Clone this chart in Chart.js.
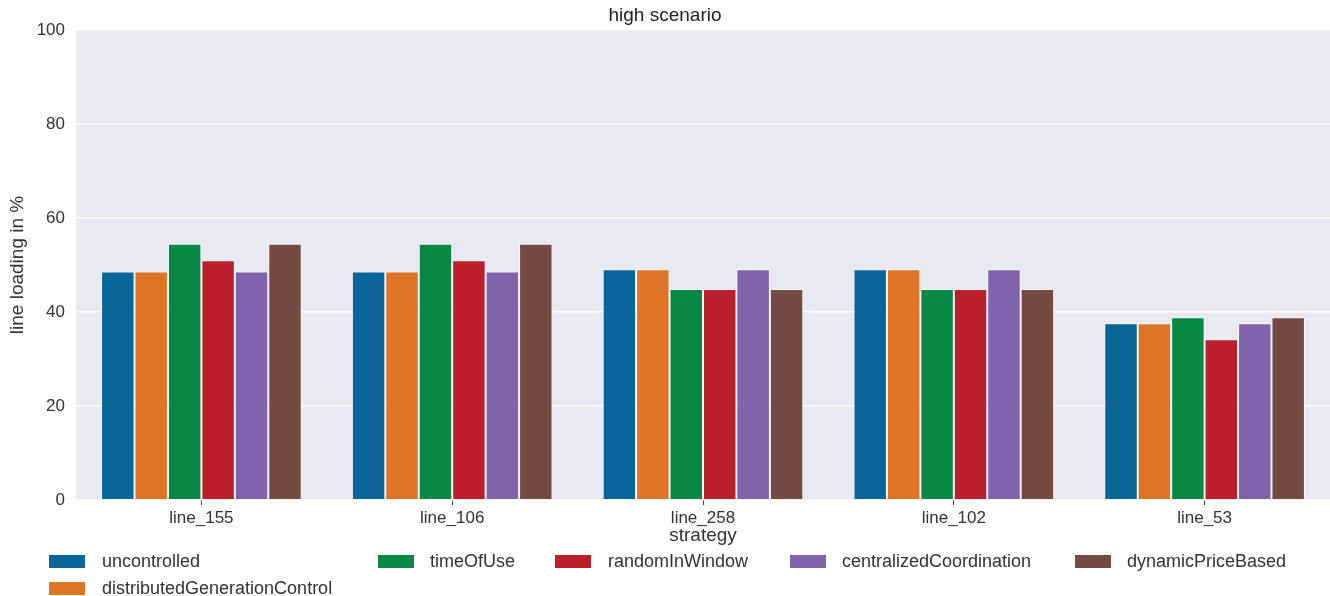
<!DOCTYPE html>
<html>
<head>
<meta charset="utf-8">
<script src="https://cdn.jsdelivr.net/npm/chart.js@4"></script>
<style>
  body { margin: 0; background: #fff; }
  #wrap { position: relative; width: 1330px; height: 596px; }
  #legend { position: absolute; left: 0; top: 0; width: 1330px; height: 596px; pointer-events: none;
            font-family: "Liberation Sans", Arial, sans-serif; font-size: 18px; color: #333; }
  .sw { position: absolute; width: 36px; height: 13px; }
  .lb { position: absolute; line-height: 20px; white-space: nowrap; }
</style>
</head>
<body>
<div id="wrap">
  <canvas id="chart"></canvas>
  <div id="legend"></div>
</div>
<script>
// Данные
const lines = ['line_155', 'line_106', 'line_258', 'line_102', 'line_53'];
const strategies = ['uncontrolled', 'distributedGenerationControl', 'timeOfUse',
                    'randomInWindow', 'centralizedCoordination', 'dynamicPriceBased'];
const uncontrolled = [48.6, 48.6, 49.1, 49.1, 37.6];
const distributedGenerationControl = [48.6, 48.6, 49.1, 49.1, 37.6];
const timeOfUse = [54.5, 54.5, 44.9, 44.9, 38.9];
const randomInWindow = [51.0, 51.0, 44.9, 44.9, 34.2];
const centralizedCoordination = [48.6, 48.6, 49.1, 49.1, 37.6];
const dynamicPriceBased = [54.5, 54.5, 44.9, 44.9, 38.9];
const yTicks = [0, 20, 40, 60, 80, 100];

const values = [uncontrolled, distributedGenerationControl, timeOfUse,
                randomInWindow, centralizedCoordination, dynamicPriceBased];
const colors = ['#0a6599', '#de7426', '#078844', '#bb1f2b', '#8064ab', '#744a43'];

const font = '"Liberation Sans", Arial, sans-serif';
const textColor = '#333';

// фон области графика как в seaborn darkgrid
const bgPlugin = {
  id: 'bg',
  beforeDraw(chart) {
    const { ctx, chartArea: a } = chart;
    ctx.save();
    ctx.fillStyle = '#e8e9f1';
    ctx.fillRect(a.left, a.top, a.right - a.left, a.bottom - a.top);
    ctx.restore();
  }
};

const wrap = document.getElementById('wrap');
wrap.style.width = '1330px';
wrap.style.height = '596px';

new Chart(document.getElementById('chart'), {
  type: 'bar',
  data: {
    labels: lines,
    datasets: strategies.map((name, i) => ({
      label: name,
      data: values[i],
      backgroundColor: colors[i],
      borderColor: 'rgba(255,255,255,0.85)',
      borderWidth: 1,
      categoryPercentage: 0.8,
      barPercentage: 1.0
    }))
  },
  options: {
    responsive: true,
    maintainAspectRatio: false,
    animation: false,
    layout: { padding: { left: 0, right: 0, top: 0, bottom: 44 } },
    plugins: {
      legend: { display: false },
      tooltip: { enabled: false },
      title: {
        display: true,
        text: 'high scenario',
        color: '#222',
        font: { family: font, size: 19, weight: 'normal' },
        padding: { top: 4, bottom: 3.2 }
      }
    },
    scales: {
      x: {
        border: { display: false },
        grid: { drawOnChartArea: false, drawTicks: true, tickLength: 5, color: '#444', offset: false },
        ticks: { color: textColor, padding: 3, font: { family: font, size: 17 } },
        title: {
          display: true, text: 'strategy', color: textColor,
          font: { family: font, size: 19 }, padding: { top: 0, bottom: 4.6 }
        },
        afterFit(scale) { scale.height = 52; }
      },
      y: {
        min: 0, max: 100,
        border: { display: false },
        grid: { color: '#ffffff', lineWidth: 1.5, drawTicks: false },
        afterBuildTicks(scale) { scale.ticks = yTicks.map(v => ({ value: v })); },
        ticks: { color: textColor, padding: 11, font: { family: font, size: 17 } },
        title: {
          display: true, text: 'line loading in %', color: textColor,
          font: { family: font, size: 19 }, padding: { top: 6.6, bottom: 0 }
        },
        afterFit(scale) { scale.width = 76; }
      }
    }
  },
  plugins: [bgPlugin]
});

// Легенда как в matplotlib (5 колонок, вторая строка только у первой)
const legendPos = [
  { sx: 49, tx: 102, y: 561 },
  { sx: 49, tx: 102, y: 588 },
  { sx: 378, tx: 430, y: 561 },
  { sx: 555, tx: 608, y: 561 },
  { sx: 790, tx: 842, y: 561 },
  { sx: 1075, tx: 1127, y: 561 }
];
const legend = document.getElementById('legend');
strategies.forEach((name, i) => {
  const p = legendPos[i];
  const sw = document.createElement('div');
  sw.className = 'sw';
  sw.style.left = p.sx + 'px';
  sw.style.top = (p.y - 6.5) + 'px';
  sw.style.background = colors[i];
  legend.appendChild(sw);
  const lb = document.createElement('div');
  lb.className = 'lb';
  lb.style.left = p.tx + 'px';
  lb.style.top = (p.y - 10) + 'px';
  lb.textContent = name;
  legend.appendChild(lb);
});
</script>
</body>
</html>
